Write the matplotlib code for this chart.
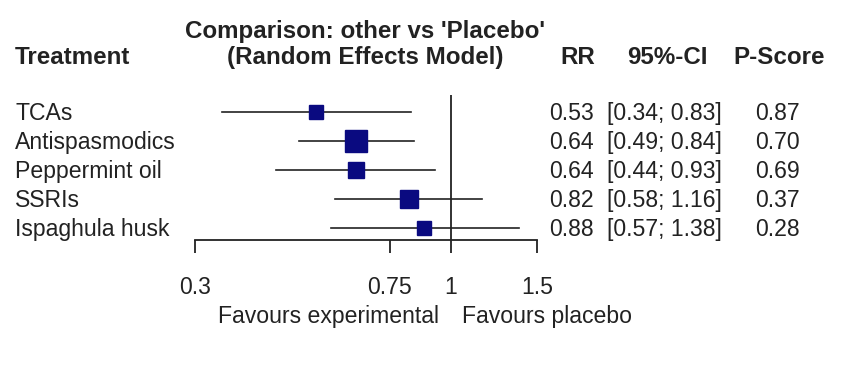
import numpy as np
import matplotlib
matplotlib.use("Agg")
import matplotlib.pyplot as plt

plt.rcParams['font.family'] = ['Liberation Sans', 'DejaVu Sans']

# --- data ---
treatments = ["TCAs", "Antispasmodics", "Peppermint oil", "SSRIs", "Ispaghula husk"]
rr = [0.53, 0.64, 0.64, 0.82, 0.88]
ci_low = [0.34, 0.49, 0.44, 0.58, 0.57]
ci_high = [0.83, 0.84, 0.93, 1.16, 1.38]
pscore = [0.87, 0.70, 0.69, 0.37, 0.28]
ticks = [0.3, 0.75, 1, 1.5]
tick_labels = ["0.3", "0.75", "1", "1.5"]

W, H = 850, 367
TXT = '#222222'
FS = 16.6
FSB = 17.4

fig = plt.figure(figsize=(W / 100, H / 100), dpi=100)
fig.patch.set_facecolor('white')


def px(x, y):
    # pixel position (from top-left) -> figure fraction
    return x / W, 1 - y / H


# forest panel: x from 0.3 (px 195) to 1.5 (px 537), rows 29 px apart
left, right, top, bottom = 195, 537, 95, 240
row0, step = 112, 29
ax = fig.add_axes([left / W, 1 - bottom / H, (right - left) / W, (bottom - top) / H])
ax.set_xscale('log')
ax.set_xlim(0.3, 1.5)
ax.set_ylim((bottom - row0) / step, (top - row0) / step)
ax.patch.set_alpha(0)
for s in ['top', 'right', 'left']:
    ax.spines[s].set_visible(False)
ax.spines['bottom'].set_linewidth(1.3)
ax.spines['bottom'].set_color(TXT)
ax.set_yticks([])
ax.set_xticks(ticks)
ax.set_xticklabels([])
ax.xaxis.set_minor_locator(matplotlib.ticker.NullLocator())
ax.tick_params(axis='x', direction='out', length=9, width=1.3, color=TXT)

# tick labels placed on their own baseline
for t, lab in zip(ticks, tick_labels):
    ax.annotate(lab, xy=(t, 0), xycoords=('data', 'axes fraction'),
                xytext=(0, -(294 - bottom) * 0.72), textcoords='offset points',
                ha='center', va='baseline', fontsize=FS, color=TXT, annotation_clip=False)

ax.axvline(1, color=TXT, lw=1.3, zorder=1)

# square side from inverse-variance weight (se from the CI on log scale)
se = (np.log(ci_high) - np.log(ci_low)) / 3.92
side = 23 * se.min() / se  # pixels
ypos = np.arange(len(treatments))
for i in range(len(treatments)):
    ax.plot([ci_low[i], ci_high[i]], [ypos[i], ypos[i]], color=TXT, lw=1.2, zorder=2)
    ax.plot(rr[i], ypos[i], marker='s', markersize=side[i] * 0.72,
            color='#0a0a80', markeredgecolor='#0a0a80', zorder=3, clip_on=False)

# headers
hb = dict(fontsize=FSB, fontweight='bold', color=TXT, va='baseline')
fig.text(*px(15, 64), "Treatment", **hb)
fig.text(*px(365, 38), "Comparison: other vs 'Placebo'", ha='center', **hb)
fig.text(*px(365, 64), "(Random Effects Model)", ha='center', **hb)
fig.text(*px(595, 64), "RR", ha='right', **hb)
fig.text(*px(708, 64), "95%-CI", ha='right', **hb)
fig.text(*px(825, 64), "P-Score", ha='right', **hb)

# row text
rt = dict(fontsize=FS, color=TXT, va='baseline')
for i, name in enumerate(treatments):
    y = 120 + step * i
    fig.text(*px(15, y), name, **rt)
    fig.text(*px(594, y), f"{rr[i]:.2f}", ha='right', **rt)
    fig.text(*px(722, y), f"[{ci_low[i]:.2f}; {ci_high[i]:.2f}]", ha='right', **rt)
    fig.text(*px(800, y), f"{pscore[i]:.2f}", ha='right', **rt)

fig.text(*px(439, 323), "Favours experimental", ha='right', **rt)
fig.text(*px(462, 323), "Favours placebo", ha='left', **rt)

fig.savefig("out.png", dpi=100, facecolor='white')
